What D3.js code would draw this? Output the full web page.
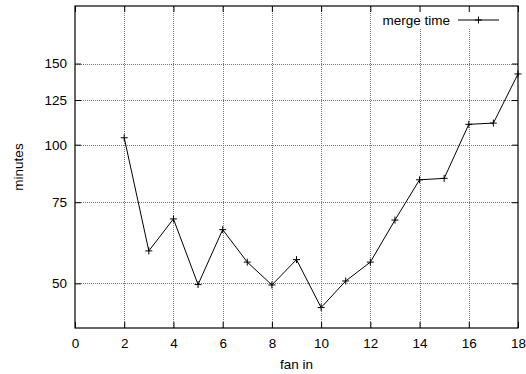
<!DOCTYPE html>
<html>
<head>
<meta charset="utf-8">
<script src="https://cdn.jsdelivr.net/npm/d3@7"></script>
<style>
  html, body { margin: 0; padding: 0; background: #fff; }
  svg { display: block; }
  text { font-family: "Liberation Sans", Arial, sans-serif; font-size: 13.5px; fill: #000; }
</style>
</head>
<body>
<svg id="chart" width="526" height="374"></svg>
<script>
// Merge time (minutes) by fan-in
const fanIn = [2, 3, 4, 5, 6, 7, 8, 9, 10, 11, 12, 13, 14, 15, 16, 17, 18];
const mergeTime = [103.5, 58.8, 69.0, 49.7, 65.4, 55.6, 49.6, 56.3, 44.3, 50.6, 55.6, 68.6, 83.9, 84.5, 110.7, 111.4, 142.4];
const xTicks = [0, 2, 4, 6, 8, 10, 12, 14, 16, 18];
const yTicks = [50, 75, 100, 125, 150];
const seriesName = "merge time";

const margin = { left: 75, right: 8, top: 6, bottom: 46 };
const W = 526, H = 374;
const FONT = 13.5;
const svg = d3.select("#chart");

const x = d3.scaleLinear().domain([0, 18]).range([margin.left, W - margin.right]);
const y = d3.scaleLog().domain([40, 200]).range([H - margin.bottom, margin.top]);

const x0 = x.range()[0], x1 = x.range()[1];
const y0 = y.range()[0], y1 = y.range()[1];

// grid
const grid = svg.append("g").attr("stroke", "#777").attr("stroke-width", 1)
  .attr("stroke-dasharray", "1,1").attr("shape-rendering", "crispEdges");
grid.selectAll("line.gx").data(xTicks.filter(d => d > 0 && d < 18)).join("line")
  .attr("x1", d => Math.round(x(d)) + 0.5).attr("x2", d => Math.round(x(d)) + 0.5)
  .attr("y1", y0).attr("y2", y1);
grid.selectAll("line.gy").data(yTicks).join("line")
  .attr("x1", x0).attr("x2", x1)
  .attr("y1", d => Math.round(y(d)) + 0.5).attr("y2", d => Math.round(y(d)) + 0.5);

// legend backdrop (hides grid behind the key)
const legendY = 20;
svg.append("rect").attr("x", 372).attr("y", y1 + 1).attr("width", x1 - 373).attr("height", 21).attr("fill", "#fff");

// axes: ticks inward on all four sides
const tickLen = 6;
const axisLeft = d3.axisLeft(y).tickValues(yTicks).tickFormat(d3.format("d")).tickSize(-tickLen).tickPadding(8);
const axisRight = d3.axisRight(y).tickValues(yTicks).tickFormat("").tickSize(-tickLen);
const axisBottom = d3.axisBottom(x).tickValues(xTicks).tickFormat(d3.format("d")).tickSize(-tickLen).tickPadding(10);
const axisTop = d3.axisTop(x).tickValues(xTicks).tickFormat("").tickSize(-tickLen);

function style(g) {
  g.select(".domain").remove();
  g.selectAll(".tick line").attr("stroke", "#000");
  g.selectAll(".tick text").attr("font-size", FONT).attr("font-family", "Liberation Sans, Arial, sans-serif").attr("fill", "#000");
}
svg.append("g").attr("transform", `translate(${x0},0)`).call(axisLeft).call(style);
svg.append("g").attr("transform", `translate(${x1},0)`).call(axisRight).call(style);
svg.append("g").attr("transform", `translate(0,${y0})`).call(axisBottom).call(style);
svg.append("g").attr("transform", `translate(0,${y1})`).call(axisTop).call(style);

// frame
svg.append("rect").attr("x", x0).attr("y", y1).attr("width", x1 - x0).attr("height", y0 - y1)
  .attr("fill", "none").attr("stroke", "#000").attr("stroke-width", 1.2);

// data line
svg.append("path").datum(fanIn.map((f, i) => [f, mergeTime[i]]))
  .attr("fill", "none").attr("stroke", "#000").attr("stroke-width", 1)
  .attr("d", d3.line().x(d => x(d[0])).y(d => y(d[1])));

// "+" markers
const m = 3.5;
const plus = (cx, cy) => `M${cx - m},${cy}H${cx + m}M${cx},${cy - m}V${cy + m}`;
svg.append("g").selectAll("path").data(fanIn.map((f, i) => [f, mergeTime[i]])).join("path")
  .attr("d", d => plus(x(d[0]), y(d[1])))
  .attr("stroke", "#000").attr("stroke-width", 1).attr("fill", "none");

// legend
const lx0 = 458, lx1 = 499;
svg.append("text").attr("x", 450).attr("y", legendY).attr("dy", "0.35em").attr("text-anchor", "end").text(seriesName);
svg.append("line").attr("x1", lx0).attr("x2", lx1).attr("y1", legendY).attr("y2", legendY).attr("stroke", "#000");
svg.append("path").attr("d", plus((lx0 + lx1) / 2, legendY)).attr("stroke", "#000");

// axis titles
svg.append("text").attr("x", (x0 + x1) / 2).attr("y", 369).attr("text-anchor", "middle").text("fan in");
svg.append("text").attr("transform", `translate(23,${(y0 + y1) / 2}) rotate(-90)`).attr("text-anchor", "middle").text("minutes");
</script>
</body>
</html>
